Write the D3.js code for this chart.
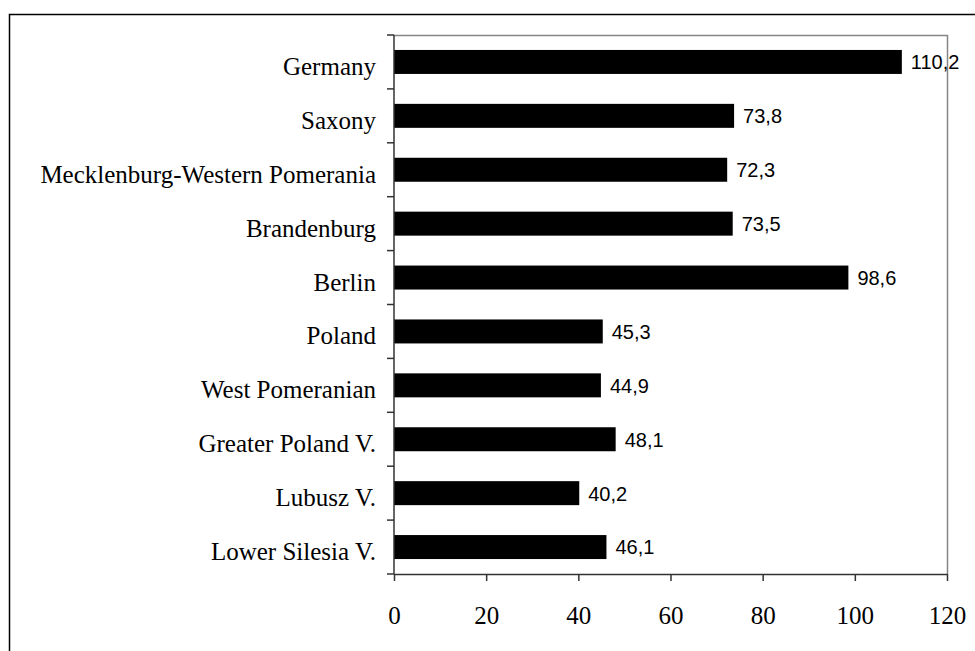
<!DOCTYPE html>
<html>
<head>
<meta charset="utf-8">
<script src="https://cdn.jsdelivr.net/npm/d3@7"></script>
<style>
  body { margin: 0; background: #fff; }
  svg { display: block; }
</style>
</head>
<body>
<div id="chart"></div>
<script>
var regions = ["Germany", "Saxony", "Mecklenburg-Western Pomerania", "Brandenburg", "Berlin",
               "Poland", "West Pomeranian", "Greater Poland V.", "Lubusz V.", "Lower Silesia V."];
var values = [110.2, 73.8, 72.3, 73.5, 98.6, 45.3, 44.9, 48.1, 40.2, 46.1];
var xTicks = [0, 20, 40, 60, 80, 100, 120];

var canvasWidth = 975;
var canvasHeight = 651;
var margin = {top: 35, bottom: 77, left: 394, right: 28};
var width = canvasWidth - margin.left - margin.right;
var height = canvasHeight - margin.top - margin.bottom;

var svg = d3.select("#chart")
    .append("svg")
    .attr("width", canvasWidth)
    .attr("height", canvasHeight);

// outer frame (runs off the right and bottom edges)
svg.append("rect")
    .attr("x", 9.5)
    .attr("y", 14.5)
    .attr("width", 1000)
    .attr("height", 700)
    .style("fill", "none")
    .style("stroke", "#000")
    .style("stroke-width", 1.5);

var g = svg.append("g")
    .attr("transform", "translate(" + margin.left + "," + margin.top + ")");

var x = d3.scaleLinear()
    .domain([0, 120])
    .range([0, width]);

var y = d3.scaleBand()
    .domain(regions)
    .range([0, height])
    .paddingInner(0.555)
    .paddingOuter(0.2775);

// plot area frame, top and right in grey
g.append("path")
    .attr("d", "M0,0.5H" + (width + 0.5) + "V" + height)
    .style("fill", "none")
    .style("stroke", "#858585")
    .style("stroke-width", 1.5);

var data = regions.map(function (r, i) { return {name: r, value: values[i]}; });

g.append("g")
    .selectAll("rect")
    .data(data)
    .enter()
    .append("rect")
    .attr("x", 0)
    .attr("y", function (d) { return y(d.name); })
    .attr("width", function (d) { return x(d.value); })
    .attr("height", y.bandwidth())
    .style("fill", "#000");

g.append("g")
    .selectAll("text")
    .data(data)
    .enter()
    .append("text")
    .attr("x", function (d) { return x(d.value) + 9; })
    .attr("y", function (d) { return y(d.name) + y.bandwidth() / 2; })
    .attr("dy", "0.37em")
    .style("font-family", "'Liberation Sans', Arial, sans-serif")
    .style("font-size", "20px")
    .style("fill", "#000")
    .text(function (d) { return d3.format(".1f")(d.value).replace(".", ","); });

// y axis: ticks sit between the categories
var yStep = height / regions.length;
var yAxis = g.append("g");
yAxis.append("line")
    .attr("x1", 0).attr("x2", 0)
    .attr("y1", 0).attr("y2", height)
    .style("stroke", "#333")
    .style("stroke-width", 1.5);
yAxis.selectAll("line.tick")
    .data(d3.range(regions.length + 1))
    .enter()
    .append("line")
    .attr("class", "tick")
    .attr("x1", -7).attr("x2", 0)
    .attr("y1", function (d) { return d * yStep; })
    .attr("y2", function (d) { return d * yStep; })
    .style("stroke", "#333")
    .style("stroke-width", 1.5);
yAxis.selectAll("text")
    .data(regions)
    .enter()
    .append("text")
    .attr("x", -18)
    .attr("y", function (d) { return y(d) + y.bandwidth() / 2; })
    .attr("dy", "0.52em")
    .attr("text-anchor", "end")
    .style("font-family", "'Liberation Serif', 'Times New Roman', serif")
    .style("font-size", "25px")
    .style("fill", "#000")
    .text(function (d) { return d; });

// x axis
var xAxis = g.append("g")
    .attr("transform", "translate(0," + height + ")")
    .call(d3.axisBottom(x).tickValues(xTicks).tickSize(7).tickPadding(25).tickSizeOuter(0));
xAxis.select(".domain").style("stroke", "#333").style("stroke-width", 1.5);
xAxis.selectAll(".tick line").style("stroke", "#333").style("stroke-width", 1.5);
xAxis.selectAll(".tick text")
    .style("font-family", "'Liberation Serif', 'Times New Roman', serif")
    .style("font-size", "25px")
    .style("fill", "#000");
</script>
</body>
</html>
